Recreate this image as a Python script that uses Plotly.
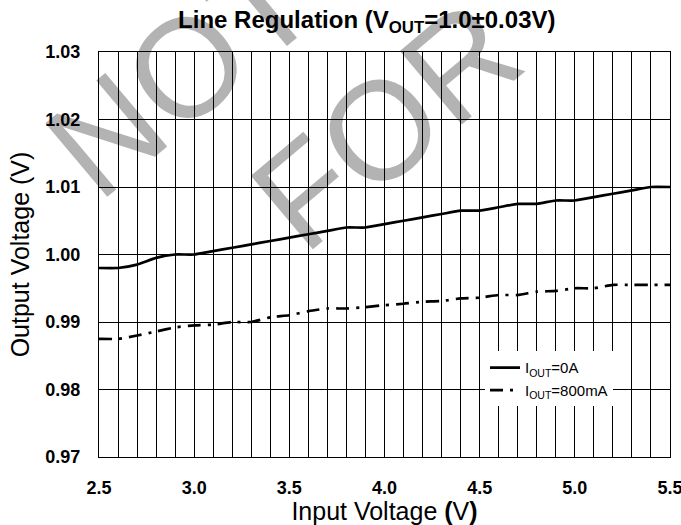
import plotly.graph_objects as go

# ---- data ----
vin = [2.5, 2.6, 2.7, 2.8, 2.9, 3.0, 3.1, 3.2, 3.3, 3.4, 3.5, 3.6, 3.7, 3.8, 3.9, 4.0,
       4.1, 4.2, 4.3, 4.4, 4.5, 4.6, 4.7, 4.8, 4.9, 5.0, 5.1, 5.2, 5.3, 5.4, 5.5]
vout_0a = [0.998, 0.998, 0.9985, 0.9995, 1.000, 1.000, 1.0005, 1.001, 1.0015, 1.002, 1.0025,
           1.003, 1.0035, 1.004, 1.004, 1.0045, 1.005, 1.0055, 1.006, 1.0065, 1.0065, 1.007,
           1.0075, 1.0075, 1.008, 1.008, 1.0085, 1.009, 1.0095, 1.010, 1.010]
vout_800ma = [0.9875, 0.9875, 0.988, 0.9886, 0.9892, 0.9895, 0.9896, 0.9900, 0.9900, 0.9907,
              0.9910, 0.9916, 0.9920, 0.9920, 0.9922, 0.9925, 0.9927, 0.9930, 0.9931, 0.9935,
              0.9936, 0.9940, 0.9940, 0.9945, 0.9946, 0.9950, 0.9950, 0.9955, 0.9955, 0.9955,
              0.9955]
series_names = ["I<sub>OUT</sub>=0A", "I<sub>OUT</sub>=800mA"]
x_ticks = [2.5, 3.0, 3.5, 4.0, 4.5, 5.0, 5.5]
x_ticktext = ["2.5", "3.0", "3.5", "4.0", "4.5", "5.0", "5.5"]
y_ticks = [0.97, 0.98, 0.99, 1.00, 1.01, 1.02, 1.03]
y_ticktext = ["0.97", "0.98", "0.99", "1.00", "1.01", "1.02", "1.03"]
title_text = "<b>Line Regulation (V<sub>OUT</sub>=1.0±0.03V)</b>"
xtitle = "Input Voltage <b>(</b>V<b>)</b>"
ytitle = "Output Voltage (V)"
watermark_words = ["NOT", "FOR"]

FONT = "Arial, Liberation Sans, Helvetica, sans-serif"

fig = go.Figure()
fig.add_trace(go.Scatter(x=vin, y=vout_0a, mode="lines", name=series_names[0],
                         line=dict(color="black", width=2.7, shape="spline", smoothing=0.5)))
fig.add_trace(go.Scatter(x=vin, y=vout_800ma, mode="lines", name=series_names[1],
                         line=dict(color="black", width=2.7, dash="13px,7px,3px,7px",
                                   shape="spline", smoothing=0.5)))

# watermark
wm_pos = [(0.128, 0.975), (0.488, 0.845)]
for word, (cx, cy) in zip(watermark_words, wm_pos):
    fig.add_shape(type="rect", xref="paper", yref="paper",
                  x0=cx - 0.05, x1=cx + 0.05, y0=cy - 0.05, y1=cy + 0.05,
                  line=dict(width=0), fillcolor="rgba(0,0,0,0)", layer="between",
                  label=dict(text=word, textangle=-40, textposition="middle center",
                             font=dict(family=FONT, size=140, color="#b3b3b3")))

fig.update_layout(
    width=681, height=525,
    margin=dict(l=99, r=11, t=52, b=68),
    paper_bgcolor="white", plot_bgcolor="white",
    font=dict(family=FONT, color="black"),
    title=dict(text=title_text, x=0.469, xref="paper", y=1 - 20 / 525, yref="container",
               xanchor="center", yanchor="middle", font=dict(size=24, color="black")),
    showlegend=True,
    legend=dict(x=0.676, y=0.261, xanchor="left", yanchor="top", bgcolor="white",
                borderwidth=0, font=dict(size=15), tracegroupgap=0),
)
fig.update_xaxes(range=[2.5, 5.5], tickvals=x_ticks, ticktext=x_ticktext,
                 showgrid=True, gridcolor="black", gridwidth=1,
                 minor=dict(dtick=0.1, showgrid=True, gridcolor="black", gridwidth=1, tick0=2.5),
                 showline=True, linecolor="black", linewidth=1, mirror=True, ticks="",
                 zeroline=False, tickfont=dict(size=18, family=FONT, weight="bold"),
                 ticklabelstandoff=14, ticklabeloverflow="allow", automargin=False,
                 title=dict(text=xtitle, font=dict(size=25), standoff=2))
fig.update_yaxes(range=[0.97, 1.03], tickvals=y_ticks, ticktext=y_ticktext,
                 showgrid=True, gridcolor="black", gridwidth=1,
                 showline=True, linecolor="black", linewidth=1, mirror=True, ticks="",
                 zeroline=False, tickfont=dict(size=18, family=FONT, weight="bold"),
                 ticklabelstandoff=14, ticklabeloverflow="allow", automargin=False,
                 title=dict(text=ytitle, font=dict(size=25), standoff=8))

fig.write_html("out.html", config={"displayModeBar": False},
               post_script="document.body.style.margin='0';document.body.style.overflow='hidden';")
